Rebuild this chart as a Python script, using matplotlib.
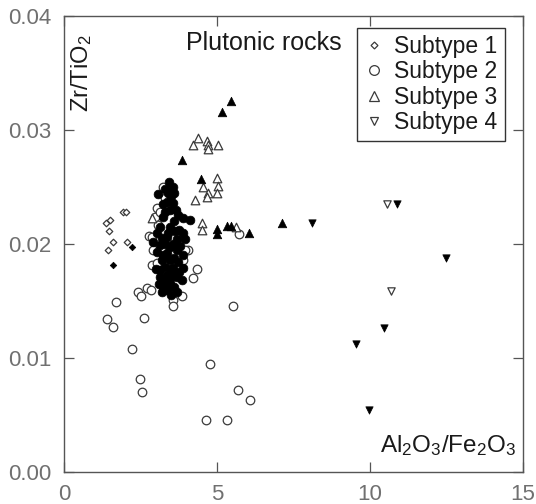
#!/usr/bin/env python
"""Zr/TiO2 vs Al2O3/Fe2O3 for plutonic rocks, four subtypes."""

import matplotlib
matplotlib.use("Agg")
import matplotlib.pyplot as plt
from matplotlib.lines import Line2D

plt.rcParams["font.family"] = ["Liberation Sans", "DejaVu Sans"]
plt.rcParams["mathtext.default"] = "regular"

# Subtype 1 (diamonds)
s1_open_x = [1.37, 1.50, 1.47, 1.60, 1.44, 1.93, 2.03, 2.06]
s1_open_y = [0.0218, 0.0221, 0.0211, 0.0202, 0.0195, 0.0228, 0.0228, 0.0202]
s1_fill_x = [2.22, 1.60]
s1_fill_y = [0.0197, 0.0182]

# Subtype 2 (circles)
s2_open_x = [1.41, 1.60, 2.22, 2.48, 2.55, 2.61, 1.70, 2.42, 2.52, 2.71,
             2.84, 2.88, 3.56, 3.56, 3.86, 3.53, 4.22, 4.35, 4.05, 5.52,
             4.77, 5.69, 6.08, 4.64, 5.33, 5.72, 2.78, 3.04, 3.24, 2.97,
             2.88, 3.07, 2.91, 3.95, 3.89, 3.04, 3.69, 3.24, 3.30, 3.14,
             3.40]
s2_open_y = [0.0134, 0.0127, 0.0108, 0.0082, 0.0070, 0.0135, 0.0149, 0.0158, 0.0154, 0.0161,
             0.0160, 0.0182, 0.0151, 0.0146, 0.0154, 0.0157, 0.0170, 0.0178, 0.0195, 0.0146,
             0.0095, 0.0072, 0.0063, 0.0046, 0.0046, 0.0209, 0.0207, 0.0232, 0.0250, 0.0224,
             0.0206, 0.0217, 0.0195, 0.0195, 0.0186, 0.0183, 0.0182, 0.0175, 0.0240, 0.0228,
             0.0233]
s2_fill_x = [3.43, 3.07, 3.37, 3.56, 3.46, 3.24, 3.73, 3.89, 4.12, 3.14,
             3.46, 3.63, 3.37, 2.91, 3.69, 3.95, 3.14, 3.46, 3.04, 3.37,
             3.69, 3.89, 3.20, 3.46, 3.73, 3.56, 3.14, 3.89, 3.37, 3.69,
             3.14, 3.46, 3.24, 3.20, 3.37, 3.56, 3.30, 3.50, 3.30, 3.60,
             3.40, 3.55, 3.30, 3.60, 3.30, 3.55, 3.40, 3.10, 3.25, 3.60,
             3.20, 3.75, 3.80, 3.25, 3.50, 3.75, 3.30, 3.60, 3.85, 3.05,
             3.40, 3.65, 3.00, 3.90, 3.50, 3.70]
s2_fill_y = [0.0254, 0.0244, 0.0237, 0.0236, 0.0230, 0.0224, 0.0225, 0.0223, 0.0221, 0.0215,
             0.0215, 0.0211, 0.0206, 0.0202, 0.0204, 0.0204, 0.0199, 0.0197, 0.0193, 0.0192,
             0.0195, 0.0190, 0.0186, 0.0186, 0.0184, 0.0179, 0.0177, 0.0179, 0.0173, 0.0171,
             0.0171, 0.0166, 0.0162, 0.0158, 0.0160, 0.0250, 0.0248, 0.0242, 0.0228, 0.0220,
             0.0210, 0.0200, 0.0200, 0.0188, 0.0180, 0.0172, 0.0168, 0.0165, 0.0235, 0.0245,
             0.0205, 0.0212, 0.0198, 0.0190, 0.0178, 0.0175, 0.0168, 0.0162, 0.0168, 0.0210,
             0.0245, 0.0230, 0.0178, 0.0210, 0.0155, 0.0158]

# Subtype 3 (triangles up)
s3_open_x = [4.38, 4.22, 4.67, 4.71, 4.71, 5.03, 5.00, 4.54, 5.03, 4.71,
             5.00, 4.67, 4.28, 4.51, 4.51, 5.62, 2.88]
s3_open_y = [0.0293, 0.0287, 0.0290, 0.0287, 0.0283, 0.0287, 0.0258, 0.0250, 0.0251, 0.0245,
             0.0245, 0.0241, 0.0239, 0.0218, 0.0212, 0.0215, 0.0223]
s3_fill_x = [5.46, 5.16, 3.86, 4.48, 5.00, 5.00, 5.33, 5.46, 6.05, 7.12]
s3_fill_y = [0.0325, 0.0316, 0.0274, 0.0257, 0.0213, 0.0209, 0.0216, 0.0216, 0.0210, 0.0218]

# Subtype 4 (triangles down)
s4_open_x = [10.56, 10.69]
s4_open_y = [0.0235, 0.0159]
s4_fill_x = [10.88, 12.48, 10.46, 9.54, 9.97, 8.10]
s4_fill_y = [0.0235, 0.0188, 0.0126, 0.0112, 0.0054, 0.0218]

EDGE = "#3a3a3a"


def main():
    fig = plt.figure(figsize=(5.36, 5.04), dpi=100)
    ax = fig.add_axes([0.1194, 0.0635, 0.8563, 0.9048])

    open_kw = dict(facecolors="white", edgecolors=EDGE, linewidths=0.9, zorder=3)
    fill_kw = dict(color="black", edgecolors="black", linewidths=0.5, zorder=4)

    ax.scatter(s2_open_x, s2_open_y, marker="o", s=38, **open_kw)
    ax.scatter(s2_fill_x, s2_fill_y, marker="o", s=40, **fill_kw)
    ax.scatter(s1_open_x, s1_open_y, marker="D", s=11, **open_kw)
    ax.scatter(s1_fill_x, s1_fill_y, marker="D", s=11, **fill_kw)
    ax.scatter(s3_open_x, s3_open_y, marker="^", s=38, **open_kw)
    ax.scatter(s3_fill_x, s3_fill_y, marker="^", s=38, **fill_kw)
    ax.scatter(s4_open_x, s4_open_y, marker="v", s=28, **open_kw)
    ax.scatter(s4_fill_x, s4_fill_y, marker="v", s=28, **fill_kw)

    ax.set_xlim(0, 15)
    ax.set_ylim(0, 0.04)
    ax.set_xticks([0, 5, 10, 15])
    ax.set_xticklabels(["0", "5", "10", "15"])
    ax.set_yticks([0, 0.01, 0.02, 0.03, 0.04])
    ax.set_yticklabels(["0.00", "0.01", "0.02", "0.03", "0.04"])
    ax.tick_params(direction="in", length=7, width=0.9, color="#555555",
                   labelsize=16, labelcolor="#707070", pad=9,
                   top=True, right=True)
    for sp in ax.spines.values():
        sp.set_color("#555555")
        sp.set_linewidth(1.0)

    ax.text(0.038, 0.96, "Zr/TiO$_2$", transform=ax.transAxes, rotation=90,
            ha="center", va="top", fontsize=17, color="#1a1a1a")
    ax.text(0.265, 0.967, "Plutonic rocks", transform=ax.transAxes,
            ha="left", va="top", fontsize=18, color="#1a1a1a")
    ax.text(0.985, 0.03, "Al$_2$O$_3$/Fe$_2$O$_3$", transform=ax.transAxes,
            ha="right", va="bottom", fontsize=17.5, color="#1a1a1a")

    handles = [
        Line2D([], [], ls="none", marker="D", ms=3.5, mfc="white", mec=EDGE, mew=0.9),
        Line2D([], [], ls="none", marker="o", ms=7, mfc="white", mec=EDGE, mew=0.9),
        Line2D([], [], ls="none", marker="^", ms=7, mfc="white", mec=EDGE, mew=0.9),
        Line2D([], [], ls="none", marker="v", ms=6, mfc="white", mec=EDGE, mew=0.9),
    ]
    labels = ["Subtype 1", "Subtype 2", "Subtype 3", "Subtype 4"]
    leg = ax.legend(handles, labels, loc="upper right", bbox_to_anchor=(0.96, 0.973),
                    fontsize=16.5, frameon=True, fancybox=False, edgecolor="black",
                    handlelength=0.9, handletextpad=0.45, borderpad=0.3,
                    labelspacing=0.1, borderaxespad=0.0)
    leg.get_frame().set_linewidth(1.0)
    for t in leg.get_texts():
        t.set_color("#1a1a1a")

    fig.savefig("out.png", dpi=100, facecolor="white")
    plt.close(fig)


if __name__ == "__main__":
    main()
